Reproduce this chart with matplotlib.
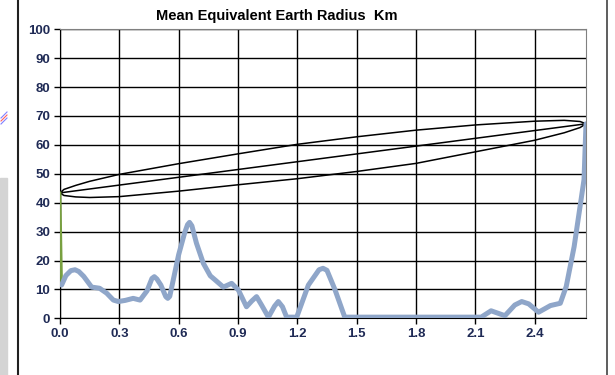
import matplotlib
matplotlib.use("Agg")
import matplotlib.pyplot as plt
from matplotlib.lines import Line2D
from matplotlib.patches import Rectangle

plt.rcParams['font.family'] = ['Liberation Sans', 'DejaVu Sans']

# blue series
blue_x = [0.008, 0.03, 0.055, 0.076, 0.095, 0.12, 0.16, 0.2, 0.236, 0.27, 0.295, 0.33,
          0.37, 0.405, 0.44, 0.465, 0.477, 0.49, 0.51, 0.535, 0.545, 0.555, 0.575, 0.6,
          0.63, 0.645, 0.655, 0.667, 0.69, 0.725, 0.76, 0.784, 0.826, 0.868, 0.902,
          0.943, 0.97, 0.994, 1.02, 1.054, 1.085, 1.104, 1.125, 1.146, 1.197, 1.256,
          1.31, 1.33, 1.35, 1.39, 1.44, 1.8, 2.13, 2.18, 2.25, 2.3, 2.335, 2.37, 2.42,
          2.48, 2.53, 2.56, 2.60, 2.63, 2.65, 2.66]
blue_y = [11.5, 14.8, 16.5, 16.8, 16.2, 14.5, 10.8, 10.4, 8.7, 6.3, 5.8, 6.2,
          6.9, 6.3, 9.5, 13.8, 14.4, 13.6, 11.5, 7.5, 6.9, 7.6, 14.0, 22.0,
          29.5, 32.4, 33.2, 32.0, 26.0, 19.0, 14.7, 13.3, 10.8, 12.1, 9.8,
          4.0, 6.0, 7.5, 4.5, 0.4, 4.2, 5.8, 4.0, 0.4, 0.4, 11.5,
          16.8, 17.3, 16.6, 10.0, 0.4, 0.4, 0.4, 2.6, 0.9, 4.6, 5.8, 5.0, 2.1,
          4.4, 5.2, 11.0, 24.8, 38.7, 48.0, 67.3]

# green series
green_x = [0.0, 0.008]
green_y = [43.4, 11.5]

# black loop: top arc, bottom arc back, then straight middle line
loop_x = [0.0, 0.02, 0.08, 0.15, 0.3, 0.6, 0.9, 1.2, 1.5, 1.8, 2.1, 2.4, 2.55, 2.63, 2.66,
          2.63, 2.55, 2.4, 2.1, 1.8, 1.5, 1.2, 0.9, 0.6, 0.3, 0.15, 0.08, 0.02, 0.0,
          2.66]
loop_y = [43.4, 44.6, 46.0, 47.4, 49.8, 53.5, 56.9, 60.2, 62.8, 65.1, 66.9, 68.2, 68.5, 68.1, 67.3,
          66.0, 64.2, 61.6, 57.6, 53.6, 50.8, 48.3, 46.2, 44.0, 42.1, 41.8, 42.0, 42.5, 43.4,
          67.3]

x_ticks = [0.0, 0.3, 0.6, 0.9, 1.2, 1.5, 1.8, 2.1, 2.4]
y_ticks = list(range(0, 101, 10))

fig = plt.figure(figsize=(6.15, 3.75), dpi=100)
ax = fig.add_axes([60 / 615, 1 - 318.3 / 375, 526 / 615, 289 / 375])

ax.plot(loop_x, loop_y, color='black', lw=1.1, zorder=3)
ax.plot(green_x, green_y, color='#78a040', lw=2.0, zorder=4)
ax.plot(blue_x, blue_y, color='#8fa6c9', lw=3.6, zorder=5,
        solid_joinstyle='round', solid_capstyle='round')

ax.set_xlim(0, 2.66)
ax.set_ylim(0, 100)
ax.set_xticks(x_ticks)
ax.set_xticklabels([f"{v:.1f}" for v in x_ticks])
ax.set_yticks(y_ticks)
ax.grid(True, color='black', lw=1.0)
ax.set_axisbelow(True)
ax.tick_params(axis='both', direction='out', length=4, width=1, color='black',
               labelsize=9.5, labelcolor='#1f2a55', pad=3)
for lab in ax.get_xticklabels() + ax.get_yticklabels():
    lab.set_fontweight('bold')
ax.spines['left'].set_color('black')
ax.spines['bottom'].set_color('black')
ax.spines['top'].set_color('#808080')
ax.spines['right'].set_color('#808080')

fig.text(277 / 615, 1 - 16 / 375, "Mean Equivalent Earth Radius  Km",
         ha='center', va='center', fontsize=10.5, fontweight='bold')

# surrounding screenshot bits
fig.add_artist(Rectangle((0, 0), 7 / 615, 197 / 375, transform=fig.transFigure,
                         color='#d4d4d4', zorder=0))
fig.add_artist(Line2D([18 / 615, 18 / 615], [0, 1], transform=fig.transFigure,
                      color='#202020', lw=1.5))
fig.add_artist(Line2D([607 / 615, 607 / 615], [0, 1], transform=fig.transFigure,
                      color='#505050', lw=1.3))
fig.add_artist(Line2D([1 / 615, 7 / 615], [1 - 118 / 375, 1 - 112 / 375],
                      transform=fig.transFigure, color='#8080ff', lw=0.8))
fig.add_artist(Line2D([1 / 615, 7 / 615], [1 - 121 / 375, 1 - 115 / 375],
                      transform=fig.transFigure, color='#ff6060', lw=0.8))
fig.add_artist(Line2D([1 / 615, 7 / 615], [1 - 124 / 375, 1 - 118 / 375],
                      transform=fig.transFigure, color='#8080ff', lw=0.8))

fig.savefig("out.png", dpi=100)
